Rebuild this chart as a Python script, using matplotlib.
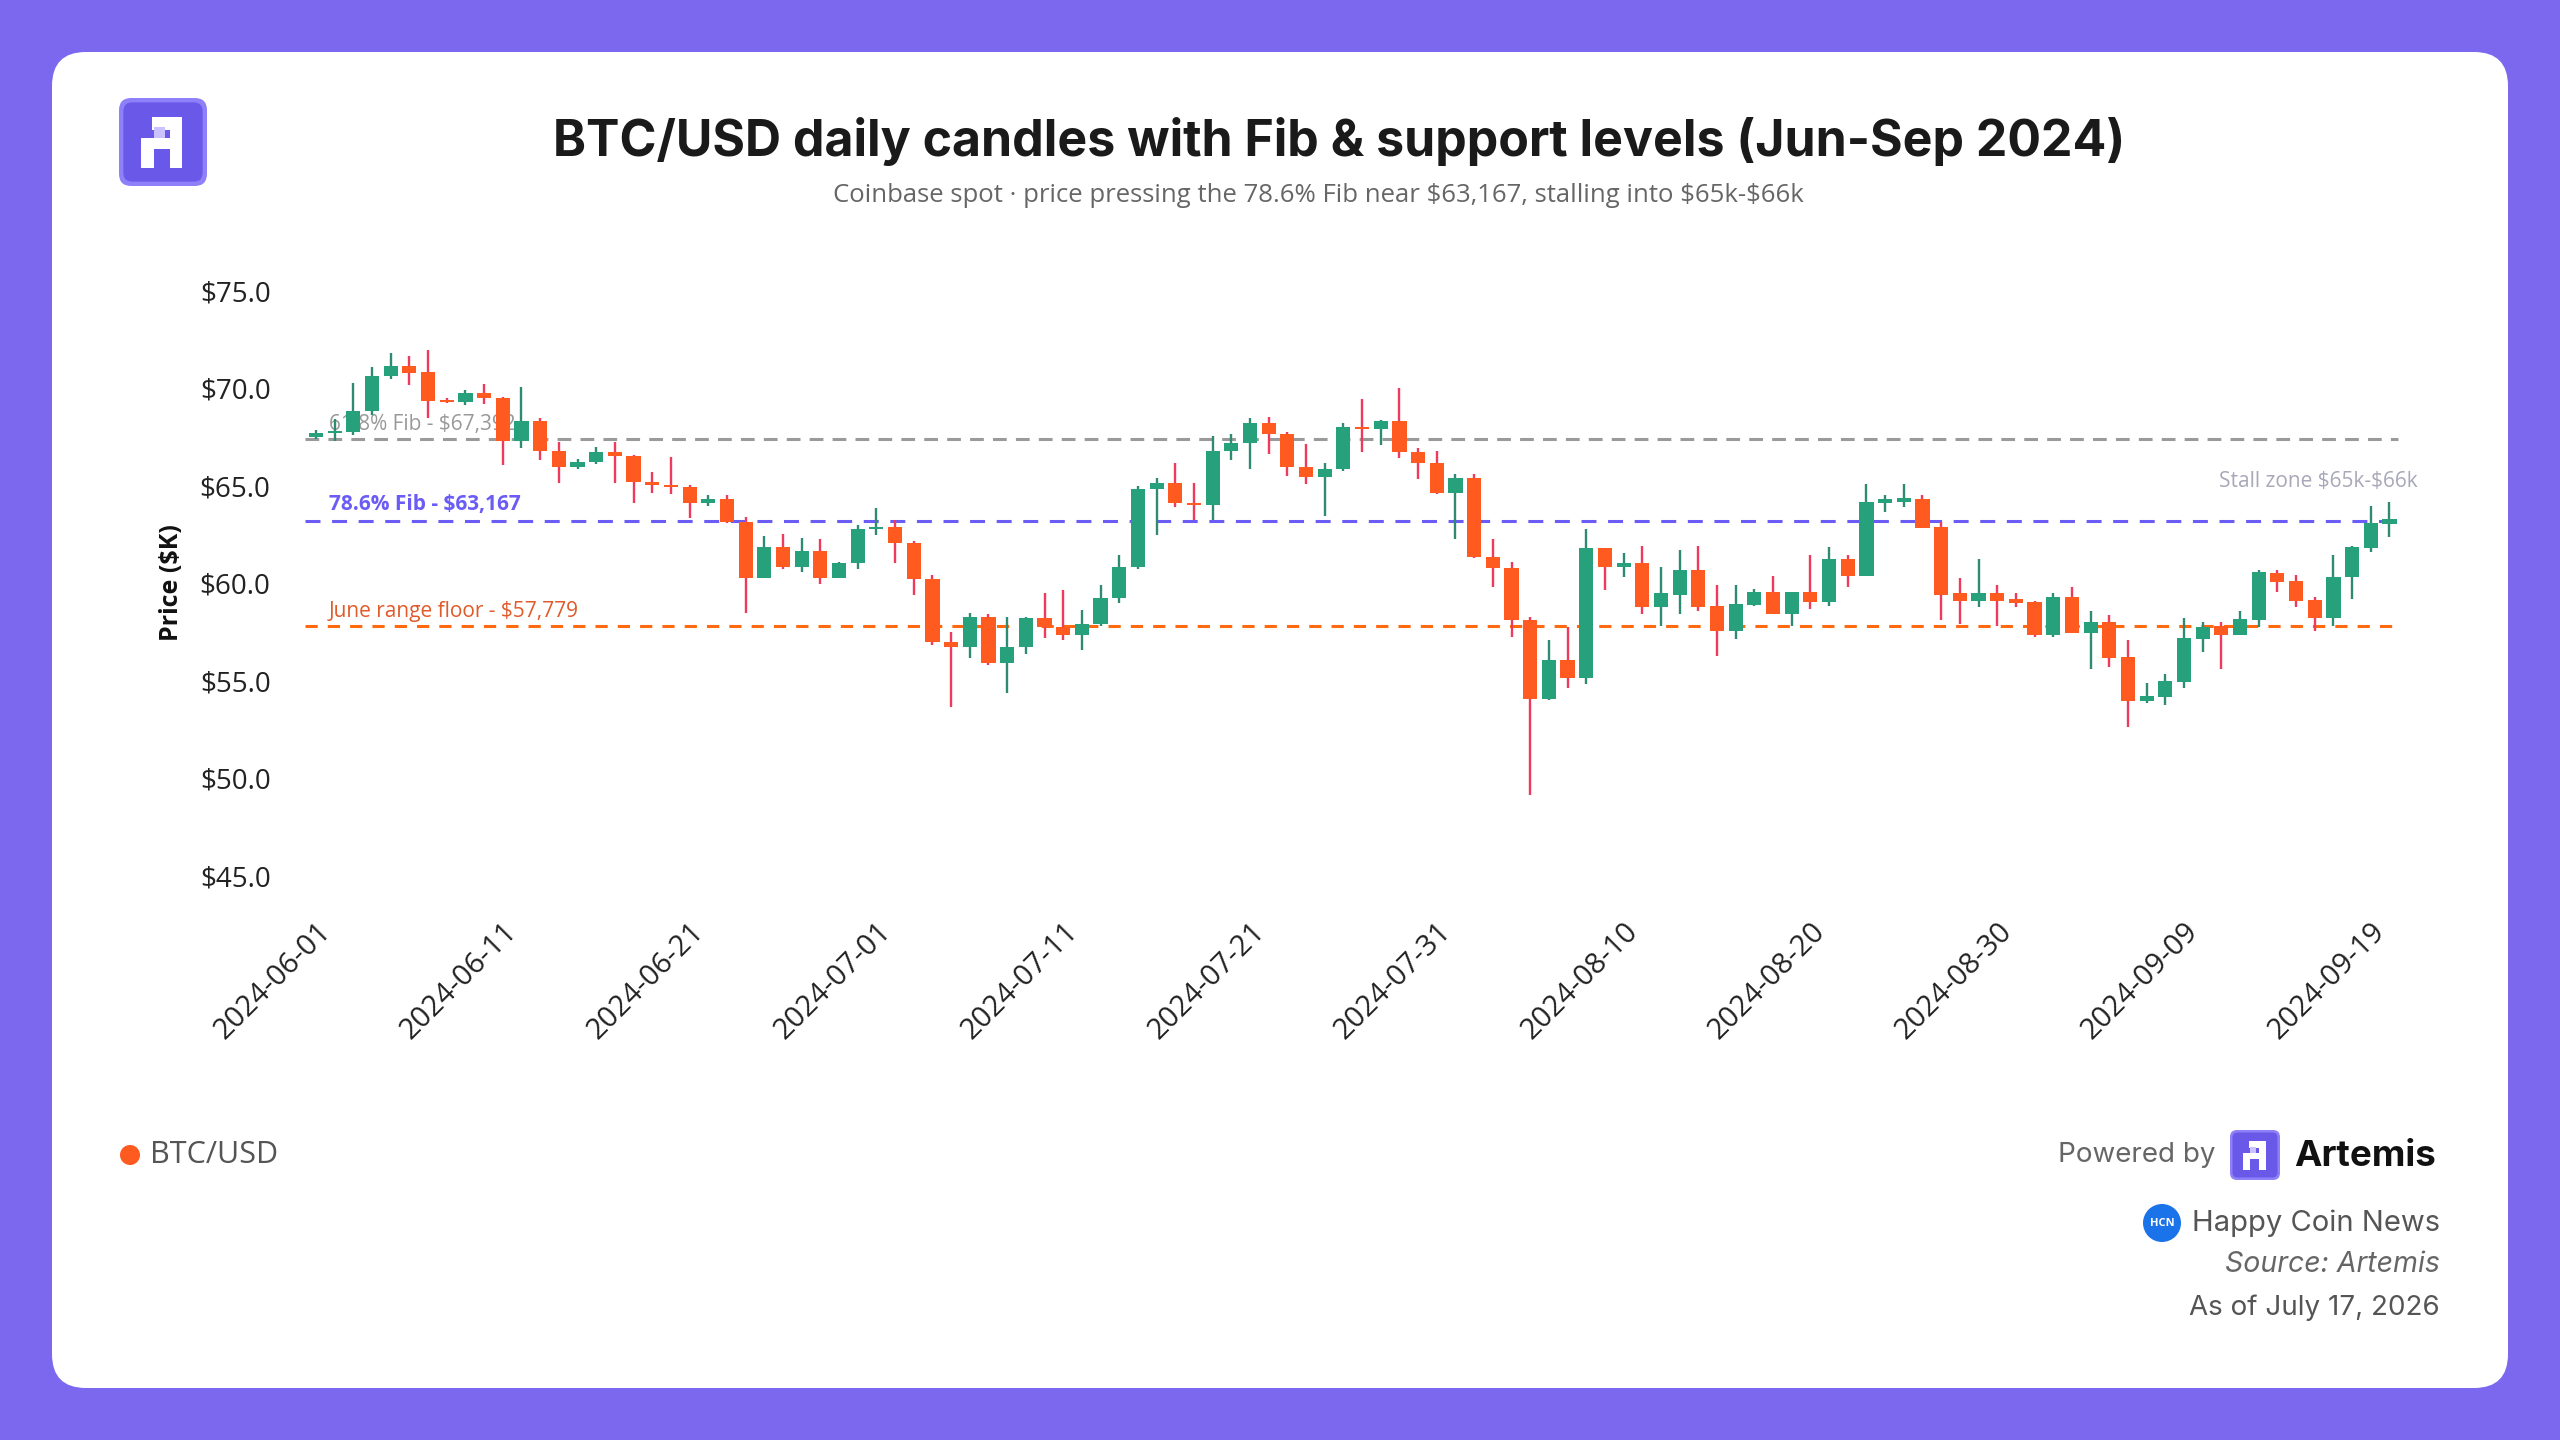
import numpy as np
import pandas as pd
import matplotlib
matplotlib.use('Agg')
import matplotlib.pyplot as plt
import matplotlib.dates as mdates
from matplotlib.patches import FancyBboxPatch, Rectangle, Circle

# -----------------------------------------------------------------------------
# DATA  (BTC/USD daily OHLC, $K, starting 2024-06-01)
# -----------------------------------------------------------------------------
START = '2024-06-01'
opens = [67.49, 67.72, 67.76, 68.85, 70.60, 71.15, 70.80, 69.36, 69.30, 69.75,
         69.50, 67.30, 68.33, 66.76, 65.97, 66.22, 66.70, 66.52, 65.20, 65.03,
         64.95, 64.13, 64.30, 63.15, 60.28, 61.87, 60.81, 61.66, 60.28, 61.01,
         62.76, 62.88, 62.08, 60.22, 57.00, 56.71, 58.28, 55.92, 56.70, 58.19,
         57.77, 57.34, 57.92, 59.25, 60.85, 64.85, 65.15, 64.09, 64.02, 66.79,
         67.20, 68.23, 67.65, 65.97, 65.42, 65.83, 68.02, 67.92, 68.33, 66.74,
         66.18, 64.62, 65.39, 61.36, 60.76, 58.11, 54.04, 56.06, 55.12, 61.78,
         60.81, 61.01, 58.76, 59.39, 60.67, 58.83, 57.56, 58.88, 59.56, 58.42,
         59.56, 59.05, 61.22, 60.36, 64.13, 64.18, 64.30, 62.86, 59.48, 59.10,
         59.48, 59.17, 59.05, 57.34, 59.27, 57.46, 58.02, 56.19, 53.97, 54.18,
         54.95, 57.12, 57.80, 57.34, 58.11, 60.54, 60.12, 59.13, 58.19, 60.30,
         61.78, 63.03]
highs = [67.86, 68.44, 70.28, 71.10, 71.80, 71.63, 71.95, 69.50, 69.90, 70.20,
         69.56, 70.05, 68.45, 67.25, 66.35, 66.96, 67.25, 66.57, 65.70, 66.48,
         65.05, 64.50, 64.52, 63.41, 62.42, 62.52, 62.30, 62.25, 61.10, 62.98,
         63.87, 63.24, 62.15, 60.42, 57.51, 58.48, 58.40, 58.28, 58.28, 59.48,
         59.65, 58.62, 59.90, 61.44, 64.98, 65.37, 66.14, 65.15, 67.54, 67.65,
         68.45, 68.54, 67.77, 67.13, 66.14, 68.23, 69.42, 68.36, 69.99, 66.95,
         66.79, 65.60, 65.60, 62.24, 61.10, 58.25, 57.08, 57.77, 62.76, 61.80,
         61.56, 61.90, 60.81, 61.70, 61.90, 59.90, 59.90, 59.68, 60.36, 59.56,
         61.44, 61.87, 61.44, 65.08, 64.52, 65.08, 64.52, 63.15, 60.25, 61.22,
         59.90, 59.48, 59.10, 59.48, 59.82, 58.59, 58.36, 57.08, 54.89, 55.34,
         58.19, 58.02, 58.02, 58.59, 60.67, 60.67, 60.42, 59.27, 61.44, 61.90,
         63.95, 64.18]
lows = [67.40, 67.29, 67.60, 68.60, 70.45, 70.16, 68.45, 69.22, 69.13, 69.19,
        66.06, 66.93, 66.31, 65.12, 65.85, 66.09, 65.12, 64.13, 64.64, 64.57,
        63.32, 63.95, 63.10, 58.48, 60.25, 60.71, 60.59, 59.95, 60.25, 60.71,
        62.47, 61.05, 59.39, 56.83, 53.63, 56.14, 55.80, 54.38, 56.37, 57.17,
        57.08, 56.57, 57.80, 58.96, 60.70, 62.47, 63.89, 63.24, 63.24, 66.31,
        65.83, 66.62, 65.49, 65.08, 63.44, 65.75, 66.74, 67.08, 66.40, 65.32,
        64.57, 62.24, 61.27, 59.82, 57.22, 49.13, 54.00, 54.60, 54.83, 59.65,
        60.30, 58.42, 57.80, 58.42, 58.59, 56.26, 57.12, 58.83, 58.42, 57.80,
        58.66, 58.83, 59.82, 60.36, 63.66, 63.92, 62.81, 58.11, 57.90, 58.76,
        57.80, 58.76, 57.22, 57.22, 57.46, 55.58, 55.72, 52.64, 53.83, 53.75,
        54.60, 56.48, 55.58, 57.34, 57.77, 59.56, 58.79, 57.56, 57.80, 59.17,
        61.61, 62.35]
closes = [67.72, 67.76, 68.85, 70.60, 71.15, 70.80, 69.36, 69.30, 69.75, 69.50,
          67.30, 68.33, 66.76, 65.97, 66.22, 66.70, 66.52, 65.20, 65.03, 64.95,
          64.13, 64.30, 63.15, 60.28, 61.87, 60.81, 61.66, 60.28, 61.01, 62.76,
          62.88, 62.08, 60.22, 57.00, 56.71, 58.28, 55.92, 56.70, 58.19, 57.77,
          57.34, 57.92, 59.25, 60.85, 64.85, 65.15, 64.09, 64.02, 66.79, 67.20,
          68.23, 67.65, 65.97, 65.42, 65.83, 68.02, 67.92, 68.33, 66.74, 66.18,
          64.62, 65.39, 61.36, 60.76, 58.11, 54.04, 56.06, 55.12, 61.78, 60.81,
          61.01, 58.76, 59.48, 60.67, 58.76, 57.56, 58.93, 59.56, 58.42, 59.56,
          59.05, 61.22, 60.36, 64.18, 64.30, 64.35, 62.81, 59.39, 59.10, 59.48,
          59.10, 58.96, 57.34, 59.27, 57.46, 58.02, 56.14, 53.97, 54.21, 55.00,
          57.17, 57.73, 57.34, 58.14, 60.59, 60.07, 59.10, 58.19, 60.33, 61.87,
          63.10, 63.29]

FIB_618 = 67.392
FIB_786 = 63.167
JUNE_FLOOR = 57.779
YTICKS = [45, 50, 55, 60, 65, 70, 75]

TITLE = 'BTC/USD daily candles with Fib & support levels (Jun-Sep 2024)'
SUBTITLE = ('Coinbase spot \u00b7 price pressing the 78.6% Fib near \\$63,167, '
            'stalling into \\$65k-\\$66k')

# -----------------------------------------------------------------------------
# STYLE
# -----------------------------------------------------------------------------
FRAME = '#7B68EE'
UP, DOWN = '#26A17B', '#FF5A1F'
UP_WICK, DOWN_WICK = '#2E8A70', '#EE3B5B'
GRAY_LINE, PURPLE, ORANGE = '#9a9a9a', '#6B5CF6', '#FF6A10'
W, H = 2560, 1440
PX_DAY = 18.68          # horizontal pixels per day
X0_PX = 316             # pixel position of first candle
AX_L, AX_R = 290, 2420  # axes pixel extent
AX_TOP, AX_BOT = 290.6, 875.6

plt.rcParams['font.family'] = ['Open Sans', 'DejaVu Sans']
INTER = ['Inter', 'DejaVu Sans']


def draw_logo(ax, x, y, s):
    ax.add_patch(FancyBboxPatch((x, y), s, s, boxstyle=f'round,pad=0,rounding_size={s*0.14}',
                                fc='#8E80F8', ec='none', zorder=3))
    ax.add_patch(FancyBboxPatch((x + s*0.05, y + s*0.05), s*0.9, s*0.9,
                                boxstyle=f'round,pad=0,rounding_size={s*0.1}',
                                fc='#6A58E8', ec='none', zorder=3))
    for rx, ry, rw, rh, c in [(0.38, 0.22, 0.34, 0.14, 'white'),
                              (0.58, 0.22, 0.14, 0.58, 'white'),
                              (0.25, 0.45, 0.15, 0.35, 'white'),
                              (0.25, 0.45, 0.47, 0.13, 'white'),
                              (0.40, 0.33, 0.12, 0.12, '#C9C2FF')]:
        ax.add_patch(Rectangle((x + rx*s, y + ry*s), rw*s, rh*s, fc=c, ec='none', zorder=4))


fig = plt.figure(figsize=(25.6, 14.4), dpi=100)
fig.patch.set_facecolor(FRAME)

# background layer in pixel coordinates (y downwards)
bg = fig.add_axes([0, 0, 1, 1])
bg.set_xlim(0, W); bg.set_ylim(H, 0); bg.axis('off')
bg.add_patch(FancyBboxPatch((52, 52), 2456, 1336, boxstyle='round,pad=0,rounding_size=34',
                            fc='white', ec='none'))
draw_logo(bg, 119, 98, 88)
bg.text(1339, 142, TITLE, ha='center', va='center', fontsize=36, fontweight='bold',
        color='#1a1a1a', family=INTER)
bg.text(1318, 195, SUBTITLE, ha='center', va='center', fontsize=18.5, color='#666666')
bg.text(171, 583, 'Price ($K)', rotation=90, ha='center', va='center', fontsize=18,
        fontweight='bold', color='#111111')

# footer
bg.add_patch(Circle((130, 1155), 10, fc=DOWN, ec='none'))
bg.text(150, 1155, 'BTC/USD', ha='left', va='center', fontsize=22, color='#555555')
bg.text(2216, 1155, 'Powered by', ha='right', va='center', fontsize=20, color='#666666',
        family=INTER)
draw_logo(bg, 2230, 1130, 50)
bg.text(2294, 1156, 'Artemis', ha='left', va='center', fontsize=26.5, fontweight='bold',
        color='#111111', family=INTER)
bg.add_patch(Circle((2162, 1223), 19, fc='#1A73E8', ec='none'))
bg.text(2162, 1223, 'HCN', ha='center', va='center', fontsize=8, fontweight='bold', color='white')
bg.text(2440, 1223, 'Happy Coin News', ha='right', va='center', fontsize=21, color='#555555',
        family=INTER)
bg.text(2440, 1265, 'Source: Artemis', ha='right', va='center', fontsize=20.5, color='#666666',
        style='italic', family=INTER)
bg.text(2440, 1308, 'As of July 17, 2026', ha='right', va='center', fontsize=20,
        color='#555555', family=INTER)

# chart axes
ax = fig.add_axes([AX_L / W, 1 - AX_BOT / H, (AX_R - AX_L) / W, (AX_BOT - AX_TOP) / H])
ax.patch.set_alpha(0)
dates = pd.date_range(START, periods=len(opens))
x = mdates.date2num(dates)
o, h, l, c = map(np.array, (opens, highs, lows, closes))
up = c >= o
body_bottom = np.minimum(o, c)
body_height = np.maximum(np.abs(c - o), 0.09)

ax.vlines(x, l, h, colors=np.where(up, UP_WICK, DOWN_WICK), lw=1.7, zorder=2)
ax.bar(x, body_height, bottom=body_bottom, width=0.76, color=np.where(up, UP, DOWN),
       edgecolor='none', zorder=3)

# level lines
x_start, x_end = x[0] - 0.6, x[-1] + 0.45
ax.hlines(FIB_618, x_start, x_end, colors=GRAY_LINE, lw=2.2, linestyles=(0, (4.5, 3)), zorder=1)
ax.hlines(FIB_786, x_start, x_end, colors=PURPLE, lw=2.2, linestyles=(0, (4.9, 3.8)), zorder=1)
ax.hlines(JUNE_FLOOR, x_start, x_end, colors=ORANGE, lw=2.2, linestyles=(0, (4, 3.3)), zorder=1)

ax.text(x[0] + 0.7, FIB_618 + 0.75, f'61.8% Fib - \\${FIB_618*1000:,.0f}', color='#999999',
        fontsize=15, va='center', ha='left', zorder=1)
ax.text(x[0] + 0.7, FIB_786 + 0.85, f'78.6% Fib - \\${FIB_786*1000:,.0f}', color=PURPLE,
        fontsize=15, fontweight='bold', va='center', ha='left', zorder=4)
ax.text(x[0] + 0.7, JUNE_FLOOR + 0.75, f'June range floor - \\${JUNE_FLOOR*1000:,.0f}',
        color='#E05A2A', fontsize=15, va='center', ha='left', zorder=4)
ax.text(x[0] + 112.5, 65.2, 'Stall zone \\$65k-\\$66k', color='#a8a8b8', fontsize=15,
        va='center', ha='right', zorder=4)

ax.set_xlim(x[0] + (AX_L - X0_PX) / PX_DAY, x[0] + (AX_R - X0_PX) / PX_DAY)
ax.set_ylim(45, 75)
ax.set_yticks(YTICKS)
ax.set_yticklabels([f'${v:.1f}' for v in YTICKS])
ax.set_xticks(x[::10])
ax.set_xticklabels([d.strftime('%Y-%m-%d') for d in dates[::10]], rotation=45, ha='right',
                   rotation_mode='anchor')
ax.tick_params(axis='both', length=0, labelsize=20, colors='#222222')
ax.tick_params(axis='x', labelsize=21, pad=30)
ax.tick_params(axis='y', pad=14)
for sp in ax.spines.values():
    sp.set_visible(False)

fig.savefig('out.png', dpi=100, facecolor=FRAME)
